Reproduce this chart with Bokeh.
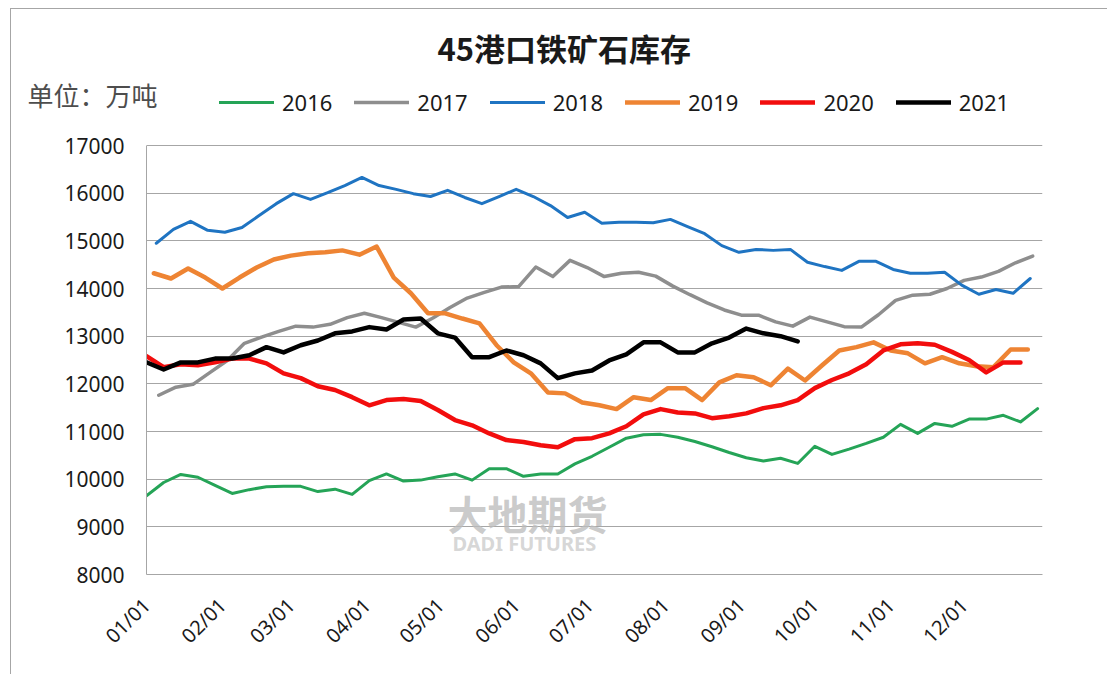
import math
from bokeh.plotting import figure
from bokeh.models import FixedTicker, Label, Legend, LegendItem, Range1d, Title
from bokeh.embed import file_html
from bokeh.resources import INLINE

# ---- data (万吨), weekly readings ----
years = ["2016", "2017", "2018", "2019", "2020", "2021"]
first_day = {"2016": 0, "2017": 5, "2018": 4, "2019": 3, "2020": 0, "2021": 0}  # day-of-year of first print

stock_2016 = [9650, 9930, 10100, 10040, 9870, 9700, 9780, 9840, 9850, 9850,
              9740, 9790, 9680, 9970, 10110, 9960, 9980, 10050, 10110, 9980,
              10220, 10220, 10060, 10110, 10110, 10320, 10480, 10670, 10860, 10930,
              10940, 10880, 10790, 10680, 10560, 10450, 10380, 10440, 10330, 10690,
              10520, 10630, 10750, 10880, 11150, 10960, 11170, 11110, 11260, 11260,
              11340, 11200, 11480]
stock_2017 = [11760, 11930, 11990, 12240, 12490, 12850, 12980, 13100, 13210, 13190,
              13250, 13390, 13480, 13390, 13290, 13190, 13380, 13600, 13800, 13920,
              14030, 14040, 14450, 14250, 14590, 14440, 14250, 14320, 14340, 14260,
              14050, 13870, 13700, 13550, 13440, 13440, 13300, 13210, 13400, 13300,
              13200, 13190, 13450, 13750, 13860, 13880, 14000, 14170, 14240, 14360,
              14540, 14680]
stock_2018 = [14950, 15240, 15410, 15220, 15180, 15280, 15530, 15780, 15990, 15870,
              16010, 16160, 16330, 16160, 16080, 15990, 15930, 16060, 15910, 15780,
              15930, 16080, 15930, 15740, 15490, 15600, 15370, 15390, 15390, 15380,
              15450, 15300, 15150, 14900, 14760, 14820, 14800, 14820, 14550, 14460,
              14380, 14570, 14570, 14400, 14320, 14320, 14340, 14070, 13880, 13980,
              13900, 14210]
stock_2019 = [14320, 14210, 14420, 14230, 14000, 14230, 14440, 14610, 14690, 14740,
              14760, 14800, 14710, 14880, 14230, 13900, 13480, 13480, 13370, 13270,
              12810, 12450, 12220, 11820, 11800, 11610, 11550, 11470, 11720, 11660,
              11910, 11910, 11660, 12030, 12180, 12140, 11970, 12320, 12070, 12390,
              12700, 12770, 12870, 12700, 12640, 12430, 12560, 12430, 12370, 12350,
              12720, 12720]
stock_2020 = [12580, 12350, 12410, 12390, 12450, 12530, 12530, 12430, 12220, 12120,
              11950, 11870, 11720, 11550, 11660, 11680, 11640, 11450, 11240, 11130,
              10960, 10820, 10780, 10710, 10670, 10840, 10860, 10960, 11110, 11360,
              11470, 11400, 11380, 11280, 11320, 11380, 11490, 11550, 11660, 11910,
              12080, 12220, 12410, 12700, 12830, 12850, 12820, 12670, 12500, 12240,
              12450, 12450]
stock_2021 = [12450, 12300, 12450, 12450, 12530, 12530, 12600, 12770, 12660, 12810,
              12910, 13060, 13100, 13190, 13140, 13350, 13370, 13060, 12970, 12560,
              12560, 12700, 12600, 12430, 12120, 12220, 12280, 12490, 12620, 12870,
              12870, 12660, 12660, 12850, 12970, 13160, 13060, 13000, 12890]

month_days = [0, 31, 59, 90, 120, 151, 181, 212, 243, 273, 304, 334]
month_labels = ["01/01", "02/01", "03/01", "04/01", "05/01", "06/01",
                "07/01", "08/01", "09/01", "10/01", "11/01", "12/01"]
y_ticks = [8000, 9000, 10000, 11000, 12000, 13000, 14000, 15000, 16000, 17000]
chart_title = "45港口铁矿石库存"
unit_text = "单位：万吨"

series = {"2016": stock_2016, "2017": stock_2017, "2018": stock_2018,
          "2019": stock_2019, "2020": stock_2020, "2021": stock_2021}
colors = {"2016": "#25a457", "2017": "#8e8e8e", "2018": "#1f74c2",
          "2019": "#ee8433", "2020": "#f20d0d", "2021": "#000000"}
widths = {"2016": 3, "2017": 3.5, "2018": 3, "2019": 4.5, "2020": 4.5, "2021": 4.5}

NUM_FONT = "Noto Sans"
CJK_FONT = "Noto Sans CJK SC"

# frame: 17000 sits 61px below the frame top so the legend row fits inside the frame
p = figure(width=1097, height=666, output_backend="svg", toolbar_location=None,
           x_range=Range1d(0, 366), y_range=Range1d(8000, 18280),
           min_border_left=135, min_border_right=66, min_border_top=75, min_border_bottom=101,
           title=None, margin=(8, 0, 0, 10),
           styles={"border-left": "1px solid #a6a6a6", "border-top": "1px solid #a6a6a6"})
p.background_fill_color = "white"
p.border_fill_color = "white"
p.outline_line_color = None

renderers = {}
for yr in years:
    vals = series[yr]
    xs = [first_day[yr] + 7 * k for k in range(len(vals))]
    r = p.line(xs, vals, line_color=colors[yr], line_width=widths[yr], line_join="round", line_cap="round")
    renderers[yr] = r

# axes
p.yaxis.ticker = FixedTicker(ticks=y_ticks)
p.yaxis.bounds = (8000, 17000)
p.yaxis.major_tick_line_color = None
p.yaxis.minor_tick_line_color = None
p.yaxis.axis_line_color = "#a6a6a6"
p.yaxis.major_label_text_font = NUM_FONT
p.yaxis.major_label_text_font_size = "21px"
p.yaxis.major_label_text_color = "#1a1a1a"
p.yaxis.major_label_standoff = 16

p.xaxis.ticker = FixedTicker(ticks=month_days)
p.xaxis.major_label_overrides = {d: lab for d, lab in zip(month_days, month_labels)}
p.xaxis.major_tick_line_color = None
p.xaxis.minor_tick_line_color = None
p.xaxis.axis_line_color = "#a6a6a6"
p.xaxis.major_label_orientation = math.pi / 4
p.xaxis.major_label_text_font = NUM_FONT
p.xaxis.major_label_text_font_size = "20px"
p.xaxis.major_label_text_color = "#1a1a1a"
p.xaxis.major_label_standoff = 21

p.xgrid.grid_line_color = None
p.ygrid.grid_line_color = "#a6a6a6"
p.ygrid.grid_line_width = 1

# legend row inside the top of the frame
items = [LegendItem(label=yr, renderers=[renderers[yr]]) for yr in years]
legend = Legend(items=items, orientation="horizontal", location=(73, 457),
                glyph_width=55, glyph_height=26, label_height=26, label_standoff=8,
                spacing=22, padding=0, margin=0, border_line_color=None,
                background_fill_alpha=0, label_text_font=NUM_FONT,
                label_text_font_size="22px", label_text_color="#1a1a1a")
p.add_layout(legend, "center")

# unit caption (drops into the legend row) and chart title
p.add_layout(Title(text=unit_text, align="left", offset=-119, text_font=CJK_FONT,
                   text_font_size="26px", text_font_style="normal", text_color="#4d4d4d",
                   vertical_align="bottom", standoff=-56), "above")
p.add_layout(Title(text=chart_title, align="left", offset=291, text_font=CJK_FONT,
                   text_font_size="31px", text_font_style="bold", text_color="#1a1a1a",
                   vertical_align="top", standoff=26), "above")

# watermark
p.add_layout(Label(x=123, y=9280, text="大地期货", text_font=CJK_FONT,
                   text_font_size="40px", text_font_style="bold", text_color="#bdbdbd",
                   text_alpha=0.8, text_align="left", text_baseline="middle"))
p.add_layout(Label(x=125, y=8650, text="DADI FUTURES", text_font=NUM_FONT,
                   text_font_size="20px", text_font_style="bold", text_color="#cccccc",
                   text_alpha=0.8, text_align="left", text_baseline="middle"))

open("out.html", "w").write(file_html(p, INLINE))
